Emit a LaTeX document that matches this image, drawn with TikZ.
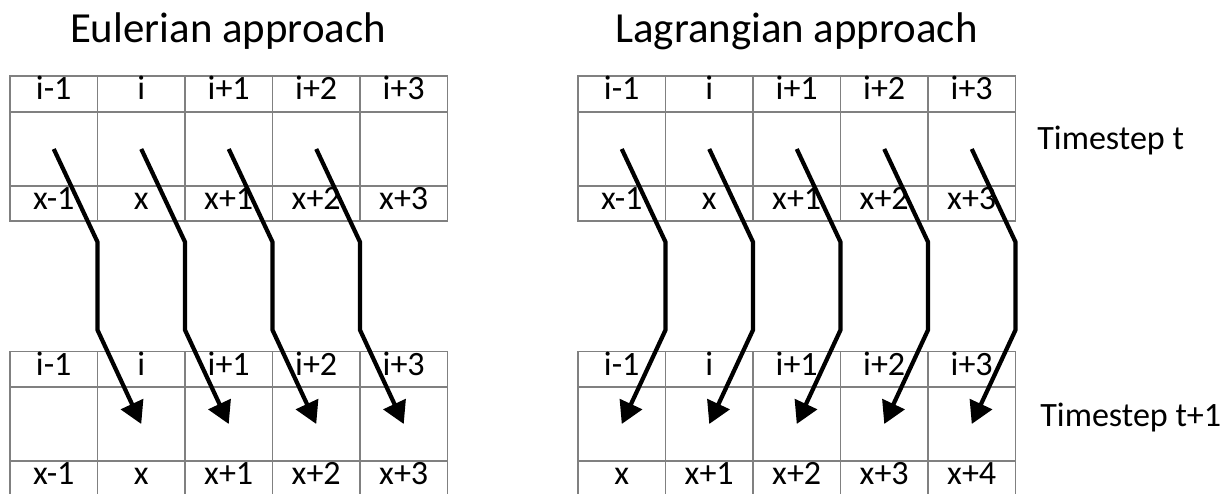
\documentclass[tikz,border=0pt]{standalone}
\usepackage{fontspec}
\setmainfont{Carlito}
\usetikzlibrary{arrows.meta}

\tikzset{
  cell/.style={draw=black!50,line width=0.6pt,minimum width=1.75cm,inner sep=0pt,
    text height=0.64em,text depth=0pt,font=\fontsize{19.4}{23}\selectfont},
  hdr/.style={cell,minimum height=0.72cm},
  mid/.style={cell,minimum height=1.48cm},
  low/.style={cell,minimum height=0.70cm},
  flow/.style={line width=2.4pt,-{Triangle[length=0.44cm,width=0.48cm]}},
  heading/.style={anchor=base,font=\fontsize{24.4}{29}\selectfont},
  steplabel/.style={anchor=base west,inner sep=0pt,font=\fontsize{19.4}{23}\selectfont}
}

\begin{document}
\begin{tikzpicture}
\useasboundingbox (0,0) rectangle (24.580,-9.880);
% Eulerian, timestep t
\node[hdr] (eu-t1-1) at (1.075,-1.880) {i-1};
\node[hdr] (eu-t1-2) at (2.825,-1.880) {i};
\node[hdr] (eu-t1-3) at (4.575,-1.880) {i+1};
\node[hdr] (eu-t1-4) at (6.325,-1.880) {i+2};
\node[hdr] (eu-t1-5) at (8.075,-1.880) {i+3};
\node[mid] (eu-t2-1) at (1.075,-2.980) {};
\node[mid] (eu-t2-2) at (2.825,-2.980) {};
\node[mid] (eu-t2-3) at (4.575,-2.980) {};
\node[mid] (eu-t2-4) at (6.325,-2.980) {};
\node[mid] (eu-t2-5) at (8.075,-2.980) {};
\node[low] (eu-t3-1) at (1.075,-4.070) {x-1};
\node[low] (eu-t3-2) at (2.825,-4.070) {x};
\node[low] (eu-t3-3) at (4.575,-4.070) {x+1};
\node[low] (eu-t3-4) at (6.325,-4.070) {x+2};
\node[low] (eu-t3-5) at (8.075,-4.070) {x+3};
% Eulerian, timestep t+1
\node[hdr] (eu-b1-1) at (1.075,-7.390) {i-1};
\node[hdr] (eu-b1-2) at (2.825,-7.390) {i};
\node[hdr] (eu-b1-3) at (4.575,-7.390) {i+1};
\node[hdr] (eu-b1-4) at (6.325,-7.390) {i+2};
\node[hdr] (eu-b1-5) at (8.075,-7.390) {i+3};
\node[mid] (eu-b2-1) at (1.075,-8.480) {};
\node[mid] (eu-b2-2) at (2.825,-8.480) {};
\node[mid] (eu-b2-3) at (4.575,-8.480) {};
\node[mid] (eu-b2-4) at (6.325,-8.480) {};
\node[mid] (eu-b2-5) at (8.075,-8.480) {};
\node[low] (eu-b3-1) at (1.075,-9.570) {x-1};
\node[low] (eu-b3-2) at (2.825,-9.570) {x};
\node[low] (eu-b3-3) at (4.575,-9.570) {x+1};
\node[low] (eu-b3-4) at (6.325,-9.570) {x+2};
\node[low] (eu-b3-5) at (8.075,-9.570) {x+3};
% Lagrangian, timestep t
\node[hdr] (la-t1-1) at (12.435,-1.880) {i-1};
\node[hdr] (la-t1-2) at (14.185,-1.880) {i};
\node[hdr] (la-t1-3) at (15.935,-1.880) {i+1};
\node[hdr] (la-t1-4) at (17.685,-1.880) {i+2};
\node[hdr] (la-t1-5) at (19.435,-1.880) {i+3};
\node[mid] (la-t2-1) at (12.435,-2.980) {};
\node[mid] (la-t2-2) at (14.185,-2.980) {};
\node[mid] (la-t2-3) at (15.935,-2.980) {};
\node[mid] (la-t2-4) at (17.685,-2.980) {};
\node[mid] (la-t2-5) at (19.435,-2.980) {};
\node[low] (la-t3-1) at (12.435,-4.070) {x-1};
\node[low] (la-t3-2) at (14.185,-4.070) {x};
\node[low] (la-t3-3) at (15.935,-4.070) {x+1};
\node[low] (la-t3-4) at (17.685,-4.070) {x+2};
\node[low] (la-t3-5) at (19.435,-4.070) {x+3};
% Lagrangian, timestep t+1
\node[hdr] (la-b1-1) at (12.435,-7.390) {i-1};
\node[hdr] (la-b1-2) at (14.185,-7.390) {i};
\node[hdr] (la-b1-3) at (15.935,-7.390) {i+1};
\node[hdr] (la-b1-4) at (17.685,-7.390) {i+2};
\node[hdr] (la-b1-5) at (19.435,-7.390) {i+3};
\node[mid] (la-b2-1) at (12.435,-8.480) {};
\node[mid] (la-b2-2) at (14.185,-8.480) {};
\node[mid] (la-b2-3) at (15.935,-8.480) {};
\node[mid] (la-b2-4) at (17.685,-8.480) {};
\node[mid] (la-b2-5) at (19.435,-8.480) {};
\node[low] (la-b3-1) at (12.435,-9.570) {x};
\node[low] (la-b3-2) at (14.185,-9.570) {x+1};
\node[low] (la-b3-3) at (15.935,-9.570) {x+2};
\node[low] (la-b3-4) at (17.685,-9.570) {x+3};
\node[low] (la-b3-5) at (19.435,-9.570) {x+4};
% headings and timestep labels
\node[heading] (eu-title) at (4.560,-0.860) {Eulerian approach};
\node[heading] (la-title) at (15.930,-0.860) {Lagrangian approach};
\node[steplabel] (step-t) at (20.740,-3.000) {Timestep t};
\node[steplabel] (step-t1) at (20.800,-8.540) {Timestep t+1};
% arrows
\draw[flow] (eu-t2-1.center) -- ++(0.875,-1.860) -- ++(0,-1.760) -- (eu-b2-2.center);
\draw[flow] (eu-t2-2.center) -- ++(0.875,-1.860) -- ++(0,-1.760) -- (eu-b2-3.center);
\draw[flow] (eu-t2-3.center) -- ++(0.875,-1.860) -- ++(0,-1.760) -- (eu-b2-4.center);
\draw[flow] (eu-t2-4.center) -- ++(0.875,-1.860) -- ++(0,-1.760) -- (eu-b2-5.center);
\draw[flow] (la-t2-1.center) -- ++(0.875,-1.860) -- ++(0,-1.760) -- (la-b2-1.center);
\draw[flow] (la-t2-2.center) -- ++(0.875,-1.860) -- ++(0,-1.760) -- (la-b2-2.center);
\draw[flow] (la-t2-3.center) -- ++(0.875,-1.860) -- ++(0,-1.760) -- (la-b2-3.center);
\draw[flow] (la-t2-4.center) -- ++(0.875,-1.860) -- ++(0,-1.760) -- (la-b2-4.center);
\draw[flow] (la-t2-5.center) -- ++(0.875,-1.860) -- ++(0,-1.760) -- (la-b2-5.center);
\end{tikzpicture}
\end{document}
